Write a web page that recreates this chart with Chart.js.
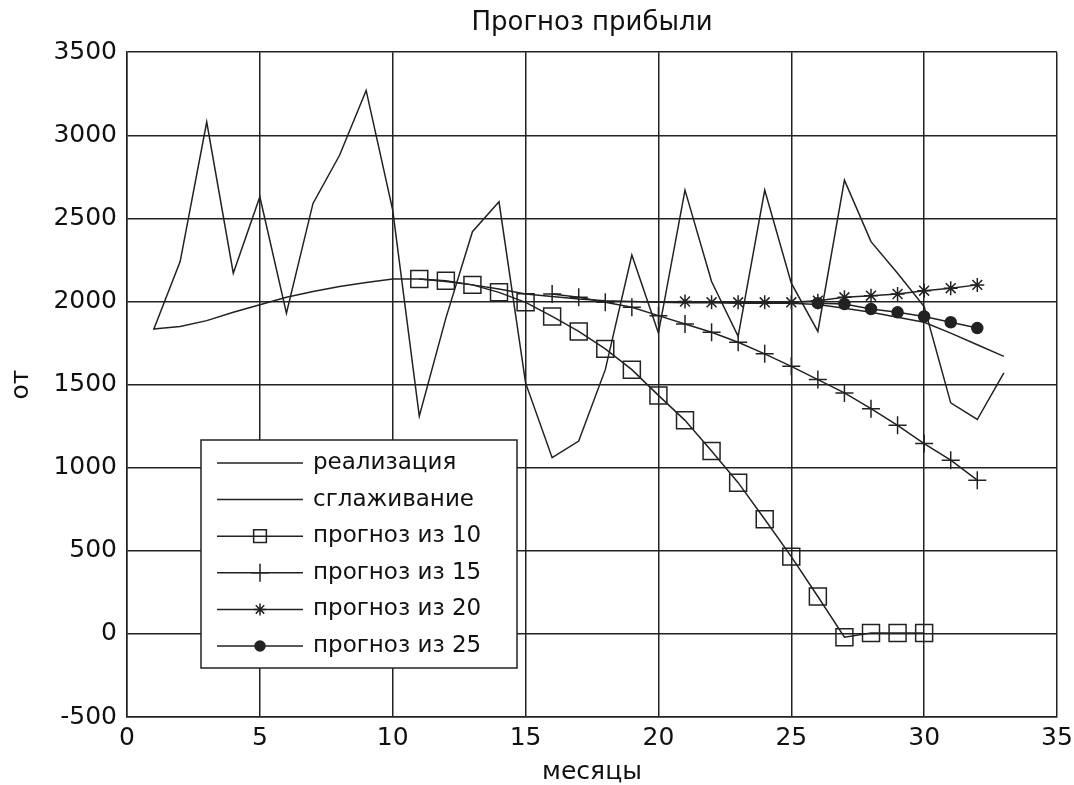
<!DOCTYPE html>
<html>
<head>
<meta charset="utf-8">
<script src="https://cdn.jsdelivr.net/npm/chart.js@4/dist/chart.umd.min.js"></script>
<style>
    body { margin: 0; background: #fff; }
</style>
</head>
<body>
<canvas id="profitChart" width="1074" height="785"></canvas>
<script>
// months and series
var months = [1, 2, 3, 4, 5, 6, 7, 8, 9, 10, 11, 12, 13, 14, 15, 16, 17, 18, 19, 20, 21, 22, 23, 24, 25, 26, 27, 28, 29, 30, 31, 32, 33];
var realization = [1830, 2240, 3080, 2170, 2630, 1930, 2590, 2880, 3270, 2550, 1310, 1900, 2420, 2600, 1510, 1060, 1160, 1590, 2280, 1810, 2670, 2120, 1790, 2670, 2110, 1820, 2730, 2360, 2170, 1970, 1390, 1290, 1570];
var smoothing = [1835, 1850, 1885, 1935, 1980, 2025, 2060, 2090, 2115, 2135, 2135, 2120, 2100, 2075, 2045, 2030, 2015, 2005, 2000, 1995, 1993, 1992, 1990, 1990, 1990, 1982, 1960, 1935, 1905, 1875, 1810, 1740, 1670];

var months10 = [11, 12, 13, 14, 15, 16, 17, 18, 19, 20, 21, 22, 23, 24, 25, 26, 27, 28, 29, 30];
var forecast10 = [2135, 2125, 2100, 2055, 1995, 1910, 1820, 1715, 1590, 1435, 1285, 1100, 910, 690, 465, 225, -20, 5, 5, 5];

var months15 = [16, 17, 18, 19, 20, 21, 22, 23, 24, 25, 26, 27, 28, 29, 30, 31, 32];
var forecast15 = [2045, 2025, 1995, 1965, 1915, 1865, 1815, 1755, 1685, 1610, 1530, 1450, 1355, 1255, 1145, 1045, 925];

var months20 = [21, 22, 23, 24, 25, 26, 27, 28, 29, 30, 31, 32];
var forecast20 = [2000, 1995, 1995, 1995, 1995, 2005, 2025, 2035, 2045, 2065, 2080, 2100];

var months25 = [26, 27, 28, 29, 30, 31, 32];
var forecast25 = [1990, 1985, 1955, 1935, 1910, 1875, 1840];

var seriesNames = ['реализация', 'сглаживание', 'прогноз из 10', 'прогноз из 15', 'прогноз из 20', 'прогноз из 25'];

var ink = '#222';
var fontName = 'DejaVu Sans';

function pts(xs, ys) {
    return xs.map(function (x, i) { return { x: x, y: ys[i] }; });
}

function lineSet(label, data, style, radius, fill) {
    return {
        label: label,
        data: data,
        borderColor: ink,
        borderWidth: 1.5,
        pointStyle: style || 'circle',
        pointRadius: radius || 0,
        pointBorderColor: ink,
        pointBorderWidth: 1.5,
        pointBackgroundColor: fill || 'transparent',
        tension: 0,
        fill: false
    };
}

// legend drawn inside the plot, like the original
var boxLegend = {
    id: 'boxLegend',
    afterDraw: function (chart) {
        var ctx = chart.ctx;
        var left = 201, top = 440, w = 316, h = 228;
        ctx.save();
        ctx.fillStyle = '#fff';
        ctx.fillRect(left, top, w, h);
        ctx.strokeStyle = ink;
        ctx.lineWidth = 1.5;
        ctx.strokeRect(left, top, w, h);
        var legendSizes = [0, 0, 9, 9, 6, 5];
        chart.data.datasets.forEach(function (ds, i) {
            var y = 463 + i * 36.6;
            ctx.strokeStyle = ink;
            ctx.lineWidth = 1.5;
            ctx.beginPath();
            ctx.moveTo(217, y);
            ctx.lineTo(303, y);
            ctx.stroke();
            if (legendSizes[i] > 0) {
                ctx.fillStyle = ds.pointBackgroundColor;
                Chart.helpers.drawPoint(ctx, {
                    pointStyle: ds.pointStyle,
                    radius: legendSizes[i],
                    rotation: 0,
                    borderWidth: 1.5
                }, 260, y);
            }
            ctx.fillStyle = '#111';
            ctx.font = '23px "' + fontName + '"';
            ctx.textAlign = 'left';
            ctx.textBaseline = 'middle';
            ctx.fillText(ds.label, 313, y);
        });
        ctx.restore();
    }
};

var ctx = document.getElementById('profitChart').getContext('2d');
new Chart(ctx, {
    type: 'line',
    data: {
        datasets: [
            lineSet(seriesNames[0], pts(months, realization)),
            lineSet(seriesNames[1], pts(months, smoothing)),
            lineSet(seriesNames[2], pts(months10, forecast10), 'rect', 12),
            lineSet(seriesNames[3], pts(months15, forecast15), 'cross', 9),
            lineSet(seriesNames[4], pts(months20, forecast20), 'star', 7),
            lineSet(seriesNames[5], pts(months25, forecast25), 'circle', 5.5, ink)
        ]
    },
    options: {
        responsive: false,
        animation: false,
        layout: {
            padding: { left: 0, right: 17, top: 0, bottom: 0 }
        },
        scales: {
            x: {
                type: 'linear',
                min: 0,
                max: 35,
                ticks: {
                    stepSize: 5,
                    padding: 6,
                    color: '#111',
                    font: { family: fontName, size: 25 },
                    callback: function (v) { return String(v); }
                },
                grid: { color: ink, lineWidth: 1.5, drawTicks: false },
                border: { color: ink, width: 1.5 },
                title: {
                    display: true,
                    text: 'месяцы',
                    color: '#111',
                    font: { family: fontName, size: 25, lineHeight: 1 },
                    padding: { top: 0, bottom: 0 }
                },
                afterFit: function (scale) {
                    scale.height = 68;
                    // the "35" label may stick out past the frame, as in the original
                    scale.paddingRight = 0;
                    scale.paddingLeft = 0;
                }
            },
            y: {
                min: -500,
                max: 3500,
                ticks: {
                    stepSize: 500,
                    padding: 10,
                    color: '#111',
                    font: { family: fontName, size: 25 },
                    callback: function (v) { return String(v); }
                },
                grid: { color: ink, lineWidth: 1.5, drawTicks: false },
                border: { color: ink, width: 1.5 },
                title: {
                    display: true,
                    text: 'от',
                    color: '#111',
                    font: { family: fontName, size: 25 },
                    padding: { top: 6, bottom: 0 }
                },
                afterFit: function (scale) {
                    scale.width = 127;
                    scale.paddingTop = 0;
                    scale.paddingBottom = 0;
                }
            }
        },
        plugins: {
            legend: { display: false },
            tooltip: { enabled: false },
            title: {
                display: true,
                text: 'Прогноз прибыли',
                fullSize: false,
                color: '#111',
                font: { family: fontName, size: 26, weight: 'normal' },
                padding: { top: 8, bottom: 13 }
            }
        }
    },
    plugins: [boxLegend]
});
</script>
</body>
</html>
